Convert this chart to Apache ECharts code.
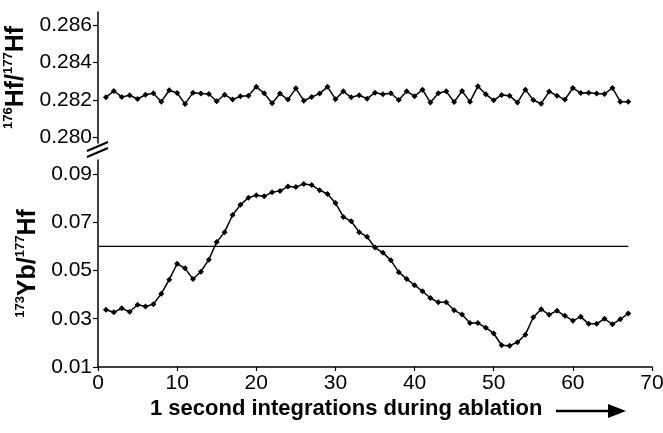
<!DOCTYPE html>
<html>
<head>
<meta charset="utf-8">
<script src="https://cdn.jsdelivr.net/npm/echarts@6/dist/echarts.min.js"></script>
<style>
  html, body { margin: 0; padding: 0; background: #fff; }
  #chart { width: 663px; height: 433px; }
</style>
</head>
<body>
<div id="chart"></div>
<script>
var seconds = [1, 2, 3, 4, 5, 6, 7, 8, 9, 10, 11, 12, 13, 14, 15, 16, 17, 18, 19, 20,
  21, 22, 23, 24, 25, 26, 27, 28, 29, 30, 31, 32, 33, 34, 35, 36, 37, 38, 39, 40,
  41, 42, 43, 44, 45, 46, 47, 48, 49, 50, 51, 52, 53, 54, 55, 56, 57, 58, 59, 60,
  61, 62, 63, 64, 65, 66, 67];

// 176Hf/177Hf
var hfRatio = [
  0.28214, 0.28248, 0.28216, 0.28225, 0.28205, 0.28228, 0.28236, 0.28191, 0.28252, 0.28237,
  0.28179, 0.28239, 0.28234, 0.28232, 0.28193, 0.28228, 0.28202, 0.28220, 0.28223, 0.28270,
  0.28236, 0.28182, 0.28234, 0.28202, 0.28262, 0.28196, 0.28216, 0.28234, 0.28270, 0.28204,
  0.28246, 0.28214, 0.28225, 0.28207, 0.28239, 0.28230, 0.28236, 0.28200, 0.28246, 0.28220,
  0.28255, 0.28186, 0.28236, 0.28246, 0.28189, 0.28248, 0.28191, 0.28273, 0.28230, 0.28198,
  0.28227, 0.28223, 0.28186, 0.28255, 0.28200, 0.28180, 0.28245, 0.28223, 0.28202, 0.28264,
  0.28237, 0.28239, 0.28234, 0.28232, 0.28264, 0.28191, 0.28191
];

// 173Yb/177Hf
var ybRatio = [
  0.0337, 0.0327, 0.0343, 0.0329, 0.0358, 0.0351, 0.0360, 0.0404, 0.0462, 0.0528,
  0.0509, 0.0465, 0.0495, 0.0545, 0.0618, 0.0659, 0.0730, 0.0772, 0.0802, 0.0812,
  0.0808, 0.0824, 0.0830, 0.0848, 0.0846, 0.0859, 0.0854, 0.0833, 0.0817, 0.0780,
  0.0722, 0.0704, 0.0659, 0.0640, 0.0595, 0.0574, 0.0542, 0.0493, 0.0465, 0.0439,
  0.0414, 0.0386, 0.0368, 0.0368, 0.0335, 0.0318, 0.0282, 0.0282, 0.0263, 0.0239,
  0.0190, 0.0188, 0.0203, 0.0234, 0.0306, 0.0339, 0.0317, 0.0333, 0.0312, 0.0292,
  0.0308, 0.0279, 0.0279, 0.0300, 0.0277, 0.0298, 0.0322
];

// threshold line
var thresholdX = [0, 67];
var thresholdY = 0.06;

var hfTicks = [0.280, 0.282, 0.284, 0.286];
var ybTicks = [0.01, 0.03, 0.05, 0.07, 0.09];

var font = "Liberation Sans, Arial, sans-serif";

var hfData = seconds.map(function (s, i) { return [s, hfRatio[i]]; });
var ybData = seconds.map(function (s, i) { return [s, ybRatio[i]]; });
var lineData = thresholdX.map(function (x) { return [x, thresholdY]; });

var myChart = echarts.init(document.getElementById("chart"));
var nameRich = {
  b: { fontSize: 25, fontWeight: "bold", fontFamily: font, color: "#000", lineHeight: 28 },
  sup: { fontSize: 13, fontWeight: "bold", fontFamily: font, color: "#000", verticalAlign: "top", lineHeight: 28 }
};
var option = {
  animation: false,
  backgroundColor: "#fff",
  grid: [
    { left: 98, right: 11, top: 12, height: 131, outerBoundsMode: "none" },
    { left: 98, right: 11, top: 160, bottom: 66, outerBoundsMode: "none" }
  ],
  xAxis: [
    {
      gridIndex: 0,
      type: "value",
      min: 0,
      max: 70,
      interval: 10,
      show: false
    },
    {
      gridIndex: 1,
      type: "value",
      min: 0,
      max: 70,
      interval: 10,
      splitLine: { show: false },
      axisLine: { lineStyle: { color: "#000", width: 1.5 } },
      axisTick: { length: 4, lineStyle: { color: "#000", width: 1.2 } },
      axisLabel: { color: "#000", fontSize: 21, fontFamily: font, margin: 6 }
    }
  ],
  yAxis: [
    {
      gridIndex: 0,
      type: "value",
      min: 0.2797,
      max: 0.2867,
      splitLine: { show: false },
      axisLine: { show: true, lineStyle: { color: "#000", width: 1.5 } },
      axisTick: { customValues: hfTicks, length: 5, lineStyle: { color: "#000", width: 1.2 } },
      axisLabel: {
        customValues: hfTicks,
        color: "#000",
        fontSize: 21,
        fontFamily: font,
        margin: 6,
        formatter: function (v) { return v.toFixed(3); }
      },
      name: "{sup|176}{b|Hf/}{sup|177}{b|Hf}",
      nameLocation: "middle",
      nameRotate: 90,
      nameGap: 46,
      nameTextStyle: { rich: nameRich }
    },
    {
      gridIndex: 1,
      type: "value",
      min: 0.01,
      max: 0.0958,
      splitLine: { show: false },
      axisLine: { show: true, lineStyle: { color: "#000", width: 1.5 } },
      axisTick: { customValues: ybTicks, length: 5, lineStyle: { color: "#000", width: 1.2 } },
      axisLabel: {
        customValues: ybTicks,
        color: "#000",
        fontSize: 21,
        fontFamily: font,
        margin: 6,
        formatter: function (v) { return v.toFixed(2); }
      },
      name: "{sup|173}{b|Yb/}{sup|177}{b|Hf}",
      nameLocation: "middle",
      nameRotate: 90,
      nameGap: 46,
      nameTextStyle: { rich: nameRich }
    }
  ],
  graphic: [
    // axis break marks
    { type: "line", shape: { x1: 87, y1: 151, x2: 108, y2: 142 }, style: { stroke: "#000", lineWidth: 2 } },
    { type: "line", shape: { x1: 87, y1: 157, x2: 108, y2: 148 }, style: { stroke: "#000", lineWidth: 2 } },
    {
      type: "text",
      left: 150,
      top: 398,
      style: {
        text: "1 second integrations during ablation",
        fontSize: 22,
        fontWeight: "bold",
        fontFamily: font,
        fill: "#000"
      }
    },
    { type: "line", shape: { x1: 556, y1: 411, x2: 612, y2: 411 }, style: { stroke: "#000", lineWidth: 2.5 } },
    { type: "polygon", shape: { points: [[608, 404], [626, 411], [608, 418]] }, style: { fill: "#000" } }
  ],
  series: [
    {
      name: "Hf",
      type: "line",
      xAxisIndex: 0,
      yAxisIndex: 0,
      data: hfData,
      symbol: "diamond",
      symbolSize: 6,
      lineStyle: { color: "#000", width: 1.5 },
      itemStyle: { color: "#000" }
    },
    {
      name: "Yb",
      type: "line",
      xAxisIndex: 1,
      yAxisIndex: 1,
      data: ybData,
      symbol: "diamond",
      symbolSize: 6,
      lineStyle: { color: "#000", width: 1.5 },
      itemStyle: { color: "#000" }
    },
    {
      name: "threshold",
      type: "line",
      xAxisIndex: 1,
      yAxisIndex: 1,
      data: lineData,
      showSymbol: false,
      lineStyle: { color: "#000", width: 1.2 }
    }
  ]
};
myChart.setOption(option);
</script>
</body>
</html>
